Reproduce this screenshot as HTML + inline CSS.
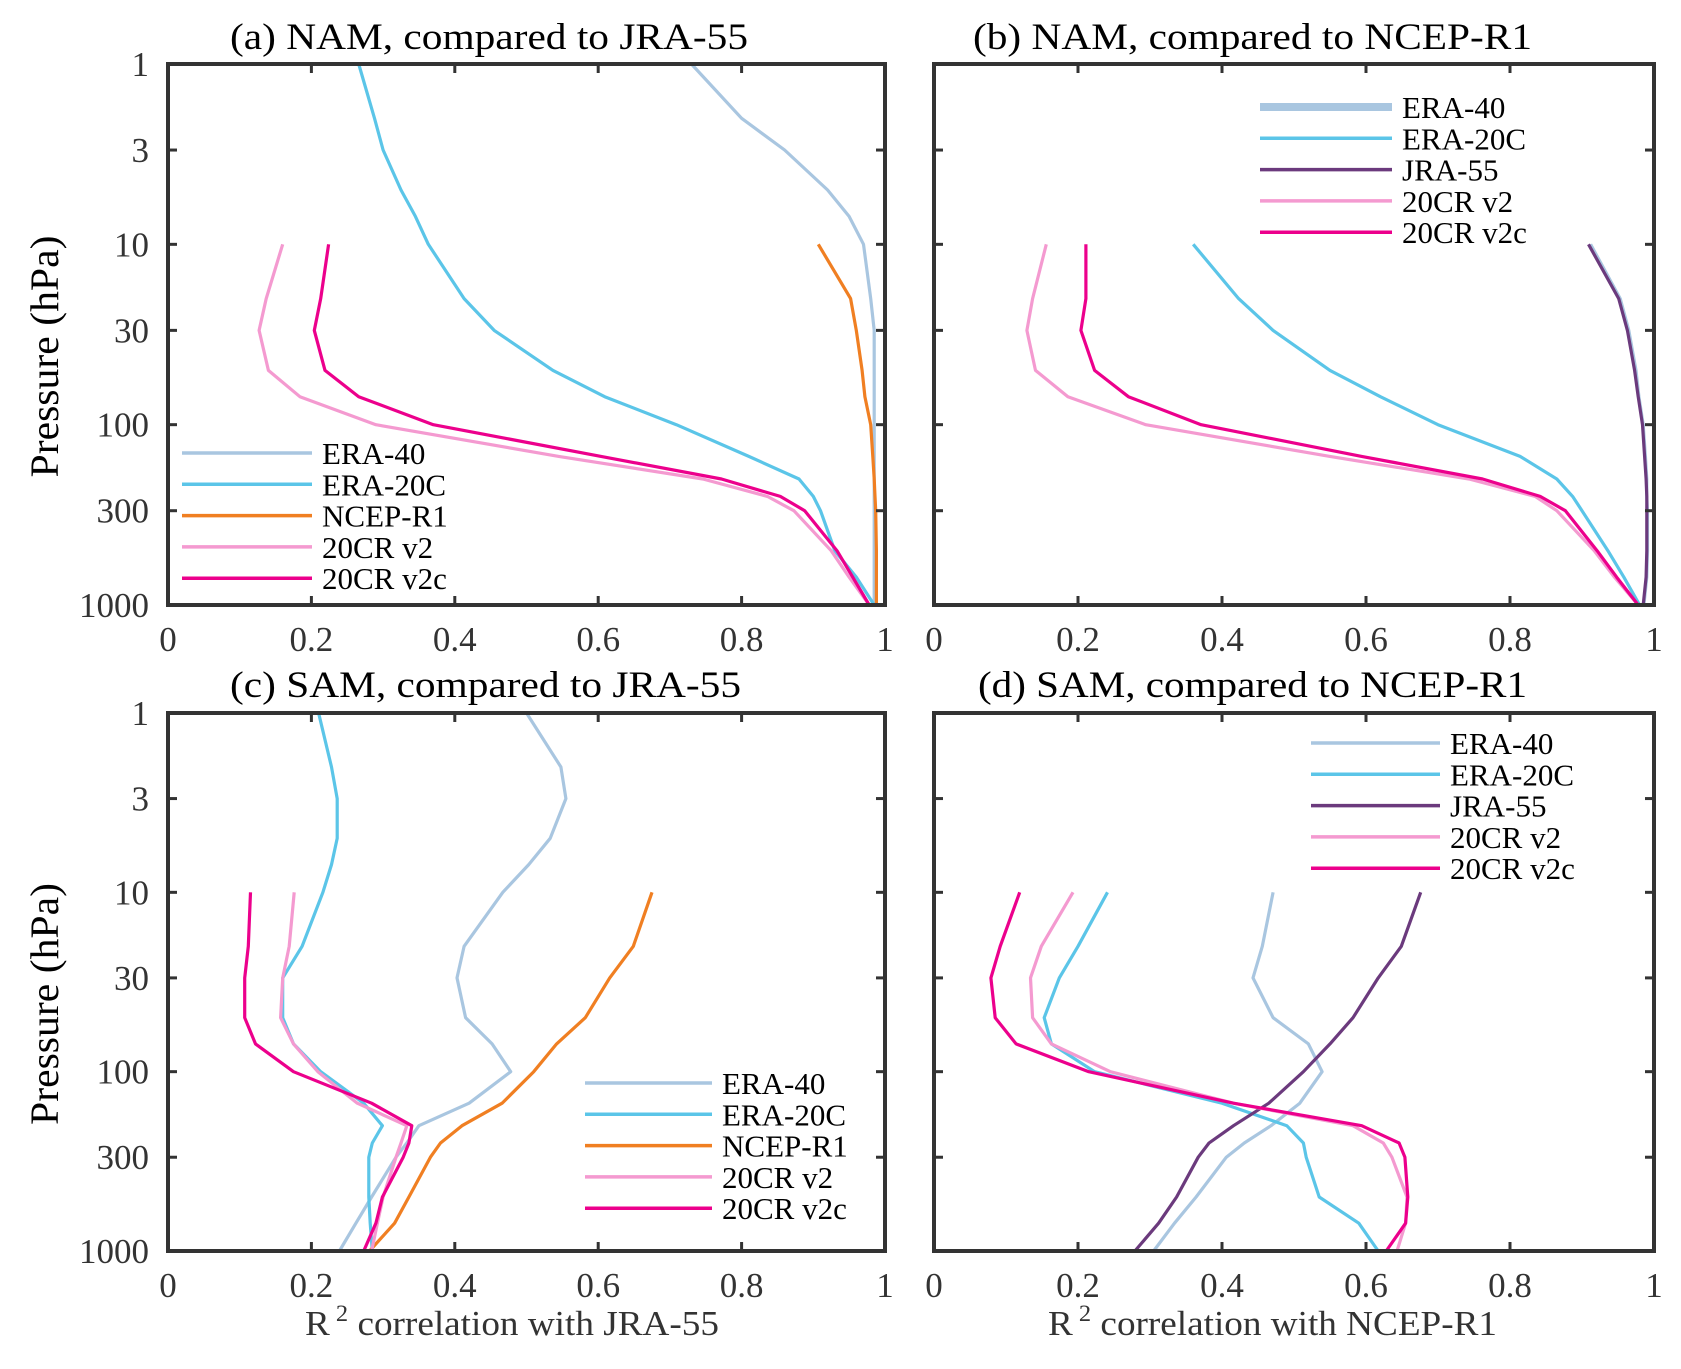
<!DOCTYPE html>
<html><head><meta charset="utf-8"><style>
html,body{margin:0;padding:0;background:#fff;}
svg{display:block;font-family:"Liberation Serif","Times New Roman",serif;}
</style></head><body>
<svg id="chart" width="1681" height="1369" viewBox="0 0 1681 1369"></svg>
<script>
// shared pressure levels (hPa)
const levelsTop = [1,2,3,5,7,10,20,30,50,70,100,150,200,250,300,500,700,1000];
const levels10 = [10,20,30,50,70,100,150,200,250,300,500,700,1000];
const xTicks = [0,0.2,0.4,0.6,0.8,1];
const xTickLabels = ["0","0.2","0.4","0.6","0.8","1"];
const yTicks = [1,3,10,30,100,300,1000];
const yTickLabels = ["1","3","10","30","100","300","1000"];

// Panel a: NAM vs JRA-55
const aEra40 = [0.73,0.80,0.86,0.92,0.95,0.97,0.98,0.985,0.985,0.985,0.985,0.985,0.985,0.985,0.985,0.985,0.985,0.985];
const aEra20c = [0.266,0.288,0.30,0.325,0.345,0.363,0.413,0.455,0.537,0.609,0.709,0.81,0.88,0.90,0.91,0.93,0.96,0.985];
const aNcep = [0.907,0.952,0.96,0.968,0.972,0.98,0.983,0.985,0.986,0.987,0.988,0.988,0.988];
const aV2 = [0.16,0.137,0.127,0.14,0.184,0.29,0.545,0.746,0.836,0.873,0.925,0.95,0.978];
const aV2c = [0.224,0.213,0.204,0.219,0.266,0.37,0.604,0.772,0.854,0.888,0.933,0.955,0.978];

// Panel b: NAM vs NCEP-R1
const bEra40 = [0.912,0.953,0.965,0.975,0.979,0.985,0.988,0.99,0.99,0.991,0.991,0.99,0.986];
const bEra20c = [0.36,0.423,0.471,0.55,0.62,0.70,0.814,0.865,0.887,0.90,0.936,0.958,0.98];
const bJra = [0.909,0.951,0.963,0.973,0.978,0.984,0.987,0.989,0.99,0.99,0.99,0.989,0.985];
const bV2 = [0.156,0.137,0.129,0.141,0.186,0.294,0.55,0.743,0.835,0.865,0.917,0.945,0.978];
const bV2c = [0.211,0.211,0.204,0.223,0.27,0.371,0.594,0.762,0.842,0.877,0.921,0.948,0.978];

// Panel c: SAM vs JRA-55
const cEra40 = [0.50,0.548,0.555,0.533,0.503,0.467,0.413,0.403,0.415,0.452,0.478,0.42,0.35,0.333,0.318,0.284,0.262,0.239];
const cEra20c = [0.21,0.228,0.236,0.236,0.228,0.216,0.187,0.16,0.16,0.175,0.213,0.273,0.299,0.285,0.28,0.28,0.282,0.285];
const cNcep = [0.675,0.649,0.616,0.582,0.542,0.51,0.466,0.41,0.38,0.366,0.336,0.316,0.281];
const cV2 = [0.176,0.169,0.16,0.157,0.175,0.209,0.264,0.333,0.325,0.318,0.30,0.292,0.284];
const cV2c = [0.115,0.112,0.107,0.107,0.122,0.175,0.284,0.34,0.336,0.328,0.299,0.29,0.273];

// Panel d: SAM vs NCEP-R1
const dEra40 = [0.471,0.456,0.443,0.471,0.52,0.539,0.508,0.468,0.431,0.406,0.364,0.334,0.305];
const dEra20c = [0.241,0.2,0.174,0.153,0.163,0.223,0.40,0.49,0.513,0.517,0.535,0.59,0.617];
const dJra = [0.676,0.649,0.617,0.582,0.55,0.513,0.465,0.416,0.382,0.367,0.337,0.312,0.279];
const dV2 = [0.193,0.149,0.134,0.137,0.163,0.245,0.416,0.582,0.624,0.636,0.657,0.655,0.643];
const dV2c = [0.119,0.092,0.079,0.085,0.114,0.215,0.416,0.594,0.646,0.654,0.658,0.655,0.628];

const COL = {era40:"#a9c6e0", era20c:"#5bc5e8", ncep:"#f07f22", jra:"#6b3a7d", v2:"#f49ad0", v2c:"#ec008c"};
const NS = "http://www.w3.org/2000/svg";
const svg = document.getElementById("chart");
function mk(tag, attrs, parent){
  const e = document.createElementNS(NS, tag);
  for (const k in attrs) e.setAttribute(k, attrs[k]);
  (parent||svg).appendChild(e);
  return e;
}

const panels = [
  {id:"a", x0:168, x1:885, y0:64, y1:605, title:"(a) NAM, compared to JRA-55", tx:230, tw:518, ty:49,
   series:[["ERA-40",aEra40,levelsTop,COL.era40],["ERA-20C",aEra20c,levelsTop,COL.era20c],["NCEP-R1",aNcep,levels10,COL.ncep],["20CR v2",aV2,levels10,COL.v2],["20CR v2c",aV2c,levels10,COL.v2c]],
   leg:{lx0:182,lx1:312,tx:322,ty:453}, ylab:true, xlab:null},
  {id:"b", x0:934, x1:1654, y0:64, y1:605, title:"(b) NAM, compared to NCEP-R1", tx:973, tw:559, ty:49,
   series:[["ERA-40",bEra40,levels10,COL.era40],["ERA-20C",bEra20c,levels10,COL.era20c],["JRA-55",bJra,levels10,COL.jra],["20CR v2",bV2,levels10,COL.v2],["20CR v2c",bV2c,levels10,COL.v2c]],
   leg:{lx0:1260,lx1:1392,tx:1402,ty:107,thickFirst:true}, ylab:false, xlab:null},
  {id:"c", x0:168, x1:885, y0:713, y1:1251, title:"(c) SAM, compared to JRA-55", tx:230, tw:511, ty:697,
   series:[["ERA-40",cEra40,levelsTop,COL.era40],["ERA-20C",cEra20c,levelsTop,COL.era20c],["NCEP-R1",cNcep,levels10,COL.ncep],["20CR v2",cV2,levels10,COL.v2],["20CR v2c",cV2c,levels10,COL.v2c]],
   leg:{lx0:585,lx1:712,tx:722,ty:1083}, ylab:true, xlab:["JRA-55",305,414]},
  {id:"d", x0:934, x1:1654, y0:713, y1:1251, title:"(d) SAM, compared to NCEP-R1", tx:978, tw:549, ty:697,
   series:[["ERA-40",dEra40,levels10,COL.era40],["ERA-20C",dEra20c,levels10,COL.era20c],["JRA-55",dJra,levels10,COL.jra],["20CR v2",dV2,levels10,COL.v2],["20CR v2c",dV2c,levels10,COL.v2c]],
   leg:{lx0:1311,lx1:1440,tx:1450,ty:743}, ylab:false, xlab:["NCEP-R1",1048,449]}
];

panels.forEach(p=>{
  const g = mk("g",{});
  
  
  const xs = v => p.x0 + v*(p.x1-p.x0);
  const ys = pr => p.y0 + Math.log10(pr)/3*(p.y1-p.y0);

  const t = mk("text",{x:p.tx,y:p.ty,"font-size":37,fill:"#000",textLength:p.tw,lengthAdjust:"spacingAndGlyphs"},g);
  t.textContent = p.title;
  
  

  p.series.forEach(s=>{
    const vals = s[1], lv = s[2];
    const pts = vals.map((v,i)=>xs(v).toFixed(1)+","+ys(lv[i]).toFixed(1)).join(" ");
    const pl = mk("polyline",{points:pts,fill:"none",stroke:s[3],"stroke-width":3.2,"stroke-linejoin":"round"},g);
    
    
  });

  const box = mk("rect",{x:p.x0,y:p.y0,width:p.x1-p.x0,height:p.y1-p.y0,fill:"none",stroke:"#333","stroke-width":4},g);
  
  

  xTicks.forEach((v,i)=>{
    const x = xs(v);
    mk("line",{x1:x,x2:x,y1:p.y1,y2:p.y1-9,stroke:"#333","stroke-width":3},g);
    mk("line",{x1:x,x2:x,y1:p.y0,y2:p.y0+9,stroke:"#333","stroke-width":3},g);
    const tl = mk("text",{x:x,y:p.y1+46,"font-size":35,fill:"#333","text-anchor":"middle"},g);
    tl.textContent = xTickLabels[i];
    
    
  });
  yTicks.forEach((v,i)=>{
    const y = ys(v);
    mk("line",{x1:p.x0,x2:p.x0+9,y1:y,y2:y,stroke:"#333","stroke-width":3},g);
    mk("line",{x1:p.x1,x2:p.x1-9,y1:y,y2:y,stroke:"#333","stroke-width":3},g);
    if (p.ylab){
      const tl = mk("text",{x:p.x0-19,y:y+12,"font-size":35,fill:"#333","text-anchor":"end"},g);
      tl.textContent = yTickLabels[i];
      
      
    }
  });
  if (p.ylab){
    const cy = (p.y0+p.y1)/2 + 22;
    const yt = mk("text",{x:0,y:0,"font-size":40,fill:"#000","text-anchor":"middle",transform:"translate(58,"+cy+") rotate(-90)",textLength:242,lengthAdjust:"spacingAndGlyphs"},g);
    yt.textContent = "Pressure (hPa)";
    
    
  }
  if (p.xlab){
    const xt = mk("text",{x:p.xlab[1],y:1335,"font-size":35,fill:"#333",textLength:p.xlab[2],lengthAdjust:"spacingAndGlyphs"},g);
    xt.innerHTML = 'R<tspan dy="-14" font-size="23"> 2</tspan><tspan dy="14"> correlation with '+p.xlab[0]+'</tspan>';
    
    
  }

  const lg = mk("g",{},g);
  
  
  p.series.forEach((s,i)=>{
    const y = p.leg.ty + i*31.3;
    const ln = mk("line",{x1:p.leg.lx0,x2:p.leg.lx1,y1:y,y2:y,stroke:s[3],"stroke-width":(p.leg.thickFirst&&i===0)?8:3.5},lg);
    
    
    const tx = mk("text",{x:p.leg.tx,y:y+11,"font-size":31,fill:"#000"},lg);
    tx.textContent = s[0];
    
    
  });
});
</script>
</body></html>
